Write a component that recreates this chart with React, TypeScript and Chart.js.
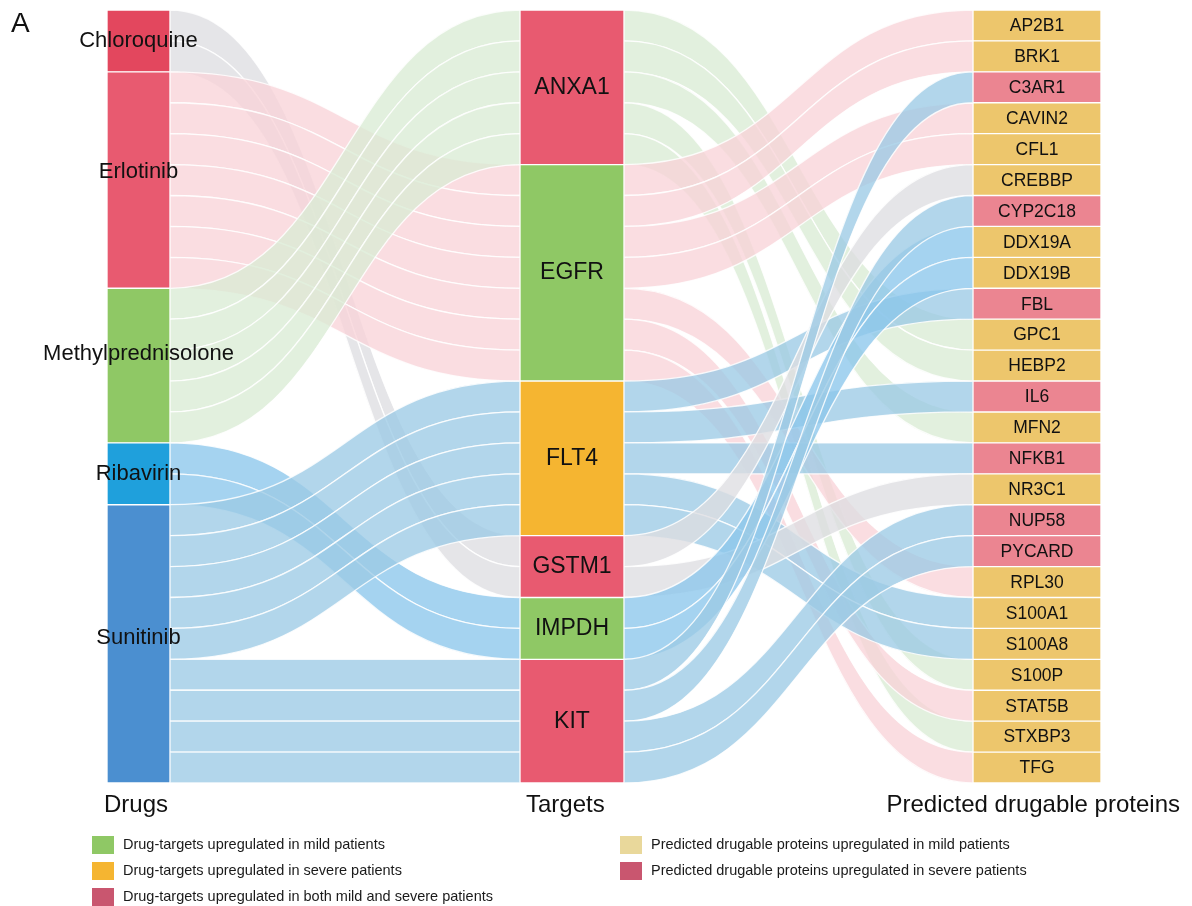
import { useEffect, useRef } from 'react';
import { Chart, registerables } from 'chart.js';

Chart.register(...registerables);

// ---- data ----
const drugs = ['Chloroquine', 'Erlotinib', 'Methylprednisolone', 'Ribavirin', 'Sunitinib'];
const drugColors = ['#e3475e', '#e85a70', '#8fc865', '#1fa0dc', '#4b8fd0'];
const drugLinkColors = [
  'rgba(222,222,225,0.78)',
  'rgba(248,212,216,0.78)',
  'rgba(218,236,213,0.78)',
  'rgba(140,199,236,0.78)',
  'rgba(156,203,229,0.78)',
];

const targets = ['ANXA1', 'EGFR', 'FLT4', 'GSTM1', 'IMPDH', 'KIT'];
const targetColors = ['#e85a70', '#8fc865', '#f5b531', '#e85a70', '#8fc865', '#e85a70'];

const proteins = [
  'AP2B1', 'BRK1', 'C3AR1', 'CAVIN2', 'CFL1', 'CREBBP', 'CYP2C18', 'DDX19A', 'DDX19B',
  'FBL', 'GPC1', 'HEBP2', 'IL6', 'MFN2', 'NFKB1', 'NR3C1', 'NUP58', 'PYCARD', 'RPL30',
  'S100A1', 'S100A8', 'S100P', 'STAT5B', 'STXBP3', 'TFG',
];
const severeProteins = ['C3AR1', 'CYP2C18', 'FBL', 'IL6', 'NFKB1', 'NUP58', 'PYCARD'];
const proteinMildColor = '#edc66c';
const proteinSevereColor = '#eb8591';

// drug -> target, number of drug/target/protein paths
const drugTargetLinks: [string, string, number][] = [
  ['Chloroquine', 'GSTM1', 2],
  ['Erlotinib', 'EGFR', 7],
  ['Methylprednisolone', 'ANXA1', 5],
  ['Ribavirin', 'IMPDH', 2],
  ['Sunitinib', 'FLT4', 5],
  ['Sunitinib', 'KIT', 4],
];

// target -> predicted drugable protein
const targetProteinLinks: [string, string][] = [
  ['ANXA1', 'GPC1'], ['ANXA1', 'HEBP2'], ['ANXA1', 'MFN2'], ['ANXA1', 'S100P'], ['ANXA1', 'STXBP3'],
  ['EGFR', 'AP2B1'], ['EGFR', 'BRK1'], ['EGFR', 'CAVIN2'], ['EGFR', 'CFL1'], ['EGFR', 'RPL30'],
  ['EGFR', 'STAT5B'], ['EGFR', 'TFG'],
  ['FLT4', 'FBL'], ['FLT4', 'IL6'], ['FLT4', 'NFKB1'], ['FLT4', 'S100A1'], ['FLT4', 'S100A8'],
  ['GSTM1', 'CREBBP'], ['GSTM1', 'NR3C1'],
  ['IMPDH', 'DDX19A'], ['IMPDH', 'DDX19B'],
  ['KIT', 'C3AR1'], ['KIT', 'CYP2C18'], ['KIT', 'NUP58'], ['KIT', 'PYCARD'],
];

const columnTitles = ['Drugs', 'Targets', 'Predicted drugable proteins'];

const legendLeftLabels = [
  'Drug-targets upregulated in mild patients',
  'Drug-targets upregulated in severe patients',
  'Drug-targets upregulated in both mild and severe patients',
];
const legendLeftColors = ['#8fc865', '#f5b531', '#c9566f'];
const legendRightLabels = [
  'Predicted drugable proteins upregulated in mild patients',
  'Predicted drugable proteins upregulated in severe patients',
];
const legendRightColors = ['#e9d89b', '#c9566f'];

// ---- layout constants ----
const FONT = '"Liberation Sans", Arial, Helvetica, sans-serif';
const CANVAS_W = 1192;
const CANVAS_H = 906;
const columnEdges: [number, number][] = [[0, 63], [413, 517], [866, 994]];
const drugLabelShift = [0, -8, -12, 0, -6];

// ---- derived stacking ----
const stack = (values: number[]) => {
  let acc = 0;
  return values.map((v) => {
    const r: [number, number] = [acc, acc + v];
    acc += v;
    return r;
  });
};

const drugTotals = drugs.map((d) =>
  drugTargetLinks.filter((l) => l[0] === d).reduce((s, l) => s + l[2], 0));
const targetTotals = targets.map((t) =>
  drugTargetLinks.filter((l) => l[1] === t).reduce((s, l) => s + l[2], 0));
const proteinTotals = proteins.map((p) => targetProteinLinks.filter((l) => l[1] === p).length);

const drugRanges = stack(drugTotals);
const targetRanges = stack(targetTotals);
const proteinRanges = stack(proteinTotals);
const totalUnits = drugTotals.reduce((a, b) => a + b, 0);

type Band = { col: number; s: number; t: number; color: string };

const buildBands = (): Band[] => {
  const bands: Band[] = [];
  const dOut = drugRanges.map((r) => r[0]);
  const tIn = targetRanges.map((r) => r[0]);
  const dt = [...drugTargetLinks].sort((a, b) =>
    drugs.indexOf(a[0]) - drugs.indexOf(b[0]) || targets.indexOf(a[1]) - targets.indexOf(b[1]));
  dt.forEach(([d, t, v]) => {
    const di = drugs.indexOf(d);
    const ti = targets.indexOf(t);
    for (let u = 0; u < v; u++) {
      bands.push({ col: 0, s: dOut[di], t: tIn[ti], color: drugLinkColors[di] });
      dOut[di] += 1;
      tIn[ti] += 1;
    }
  });
  const tOut = targetRanges.map((r) => r[0]);
  const pIn = proteinRanges.map((r) => r[0]);
  const tp = [...targetProteinLinks].sort((a, b) =>
    targets.indexOf(a[0]) - targets.indexOf(b[0]) || proteins.indexOf(a[1]) - proteins.indexOf(b[1]));
  tp.forEach(([t, p]) => {
    const ti = targets.indexOf(t);
    const pi = proteins.indexOf(p);
    const feeder = drugTargetLinks.find((l) => l[1] === t);
    const di = feeder ? drugs.indexOf(feeder[0]) : 0;
    bands.push({ col: 1, s: tOut[ti], t: pIn[pi], color: drugLinkColors[di] });
    tOut[ti] += 1;
    pIn[pi] += 1;
  });
  return bands;
};

const sankeyPlugin = {
  id: 'sankeyLinks',
  beforeDatasetsDraw(chart: any) {
    const { ctx, scales } = chart;
    const xs = scales.x;
    const ys = scales.y;
    ctx.save();
    buildBands().forEach((b) => {
      const xa = xs.getPixelForValue(columnEdges[b.col][1]);
      const xb = xs.getPixelForValue(columnEdges[b.col + 1][0]);
      const xm = (xa + xb) / 2;
      const a0 = ys.getPixelForValue(b.s);
      const a1 = ys.getPixelForValue(b.s + 1);
      const b0 = ys.getPixelForValue(b.t);
      const b1 = ys.getPixelForValue(b.t + 1);
      ctx.beginPath();
      ctx.moveTo(xa, a0);
      ctx.bezierCurveTo(xm, a0, xm, b0, xb, b0);
      ctx.lineTo(xb, b1);
      ctx.bezierCurveTo(xm, b1, xm, a1, xa, a1);
      ctx.closePath();
      ctx.fillStyle = b.color;
      ctx.fill();
      ctx.strokeStyle = 'rgba(255,255,255,0.85)';
      ctx.lineWidth = 1.3;
      ctx.stroke();
    });
    ctx.restore();
  },
  afterDraw(chart: any) {
    const { ctx, scales, chartArea } = chart;
    const xs = scales.x;
    const ys = scales.y;
    ctx.save();
    ctx.fillStyle = '#111';
    ctx.textAlign = 'center';
    ctx.textBaseline = 'middle';

    // node labels
    const colCenter = (c: number) =>
      xs.getPixelForValue((columnEdges[c][0] + columnEdges[c][1]) / 2);
    ctx.font = `22px ${FONT}`;
    drugs.forEach((d, i) => {
      const yc = ys.getPixelForValue((drugRanges[i][0] + drugRanges[i][1]) / 2);
      ctx.fillText(d, colCenter(0), yc + drugLabelShift[i]);
    });
    ctx.font = `23px ${FONT}`;
    targets.forEach((t, i) => {
      const yc = ys.getPixelForValue((targetRanges[i][0] + targetRanges[i][1]) / 2);
      ctx.fillText(t, colCenter(1), yc);
    });
    ctx.font = `17.5px ${FONT}`;
    proteins.forEach((p, i) => {
      const yc = ys.getPixelForValue((proteinRanges[i][0] + proteinRanges[i][1]) / 2);
      ctx.fillText(p, colCenter(2), yc + 1);
    });

    // column titles
    ctx.font = `24px ${FONT}`;
    const titleY = chartArea.bottom + 22;
    ctx.textAlign = 'left';
    ctx.fillText(columnTitles[0], xs.getPixelForValue(columnEdges[0][0]) - 3, titleY);
    ctx.fillText(columnTitles[1], xs.getPixelForValue(columnEdges[1][0]) + 6, titleY);
    ctx.textAlign = 'right';
    ctx.fillText(columnTitles[2], xs.getPixelForValue(columnEdges[2][1]) + 79, titleY);

    // panel letter
    ctx.textAlign = 'left';
    ctx.textBaseline = 'alphabetic';
    ctx.font = `28px ${FONT}`;
    ctx.fillText('A', 11, 32);

    // legend
    ctx.font = `14.5px ${FONT}`;
    ctx.textBaseline = 'middle';
    const legendTop = chartArea.bottom + 62;
    const rowGap = 26;
    const drawItems = (labels: string[], colors: string[], x: number) => {
      labels.forEach((lab, i) => {
        const yc = legendTop + i * rowGap;
        ctx.fillStyle = colors[i];
        ctx.fillRect(x, yc - 9, 22, 18);
        ctx.fillStyle = '#1a1a1a';
        ctx.fillText(lab, x + 31, yc);
      });
    };
    drawItems(legendLeftLabels, legendLeftColors, 92);
    drawItems(legendRightLabels, legendRightColors, 620);
    ctx.restore();
  },
};

export default function App() {
  const canvasRef = useRef<HTMLCanvasElement | null>(null);

  useEffect(() => {
    const canvas = canvasRef.current;
    if (!canvas) return;
    const center = (c: number) => (columnEdges[c][0] + columnEdges[c][1]) / 2;
    const width = (c: number) => columnEdges[c][1] - columnEdges[c][0];
    const common = {
      borderColor: '#ffffff',
      borderWidth: 1,
      borderSkipped: false,
      grouped: false,
    };
    const chart = new Chart(canvas, {
      type: 'bar',
      data: {
        datasets: [
          {
            label: 'Drugs',
            data: drugRanges.map((r) => ({ x: center(0), y: r })),
            backgroundColor: drugColors,
            barThickness: width(0),
            ...common,
          },
          {
            label: 'Targets',
            data: targetRanges.map((r) => ({ x: center(1), y: r })),
            backgroundColor: targetColors,
            barThickness: width(1),
            ...common,
          },
          {
            label: 'Predicted drugable proteins',
            data: proteinRanges.map((r) => ({ x: center(2), y: r })),
            backgroundColor: proteins.map((p) =>
              severeProteins.includes(p) ? proteinSevereColor : proteinMildColor),
            barThickness: width(2),
            ...common,
          },
        ] as any,
      },
      options: {
        animation: false,
        responsive: false,
        events: [],
        layout: { padding: { left: 107, right: CANVAS_W - 1101, top: 10, bottom: CANVAS_H - 783 } },
        plugins: { legend: { display: false }, tooltip: { enabled: false } },
        scales: {
          x: {
            type: 'linear',
            min: columnEdges[0][0],
            max: columnEdges[2][1],
            offset: false,
            display: false,
          },
          y: {
            type: 'linear',
            min: 0,
            max: totalUnits,
            reverse: true,
            display: false,
          },
        },
      } as any,
      plugins: [sankeyPlugin],
    });
    return () => chart.destroy();
  }, []);

  return (
    <div style={{ position: 'absolute', left: 0, top: 0, width: CANVAS_W, height: CANVAS_H, overflow: 'hidden' }}>
      <canvas ref={canvasRef} width={CANVAS_W} height={CANVAS_H} style={{ display: 'block' }} />
    </div>
  );
}
